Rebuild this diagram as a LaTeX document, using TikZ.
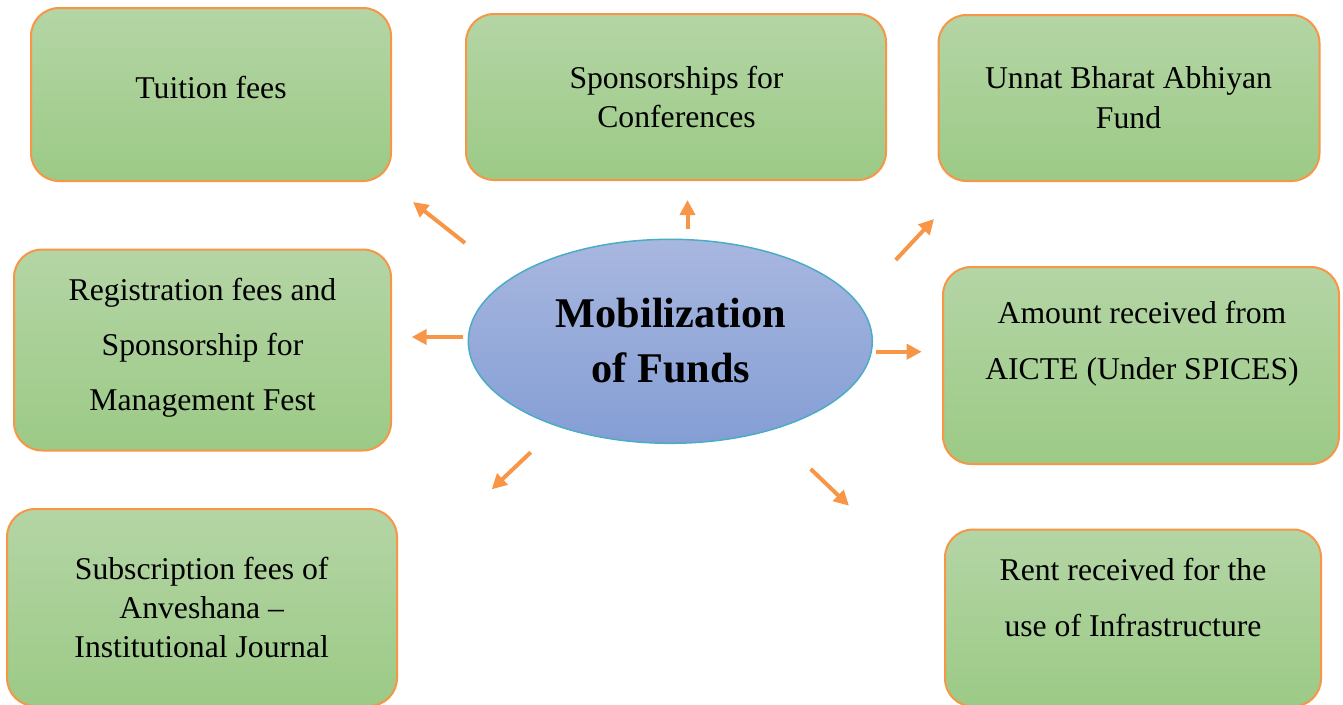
\documentclass[tikz,border=0pt]{standalone}
\usepackage{fontspec}
\setmainfont{Liberation Serif}
\usetikzlibrary{shapes.geometric,arrows.meta}
\definecolor{boxtop}{RGB}{180,213,165}
\definecolor{boxbot}{RGB}{156,202,134}
\definecolor{orangeb}{RGB}{247,150,70}
\definecolor{elltop}{RGB}{168,183,223}
\definecolor{ellbot}{RGB}{132,158,213}
\definecolor{tealb}{RGB}{75,172,198}
\tikzset{
  fundbox/.style={draw=orangeb, line width=2pt, rounded corners=28pt,
    top color=boxtop, bottom color=boxbot, inner sep=0pt, rectangle},
  lbl/.style={anchor=base, inner sep=0pt, font=\fontsize{31.7}{38}\selectfont},
  ttl/.style={anchor=base, inner sep=0pt, font=\fontsize{42.3}{50}\selectfont\bfseries},
  centre/.style={ellipse, draw=tealb, line width=1.5pt, top color=elltop,
    bottom color=ellbot, inner sep=0pt},
  arr/.style={draw=orangeb, line width=4pt, -{Triangle[length=15pt,width=15pt]}}
}
\begin{document}
\begin{tikzpicture}[x=1pt,y=-1pt]
\useasboundingbox (0,0) rectangle (1343,704);

% boxes
\node[fundbox, minimum width=360pt, minimum height=173pt] (tf) at (211,94.5) {};
\node[fundbox, minimum width=420pt, minimum height=166pt] (sc) at (676,97) {};
\node[fundbox, minimum width=381pt, minimum height=166pt] (ub) at (1129,98) {};
\node[fundbox, minimum width=377pt, minimum height=201pt] (rf) at (202.5,350) {};
\node[fundbox, minimum width=396pt, minimum height=197pt] (am) at (1141,365.5) {};
\node[fundbox, minimum width=390pt, minimum height=197pt] (sf) at (202,607.5) {};
\node[fundbox, minimum width=376pt, minimum height=177pt] (rr) at (1133,618) {};

% box texts
\node[lbl] (tf1) at (211,98) {Tuition fees};
\node[lbl] (sc1) at (676.5,88) {Sponsorships for};
\node[lbl] (sc2) at (676.5,127) {Conferences};
\node[lbl] (ub1) at (1128.5,88.5) {Unnat Bharat Abhiyan};
\node[lbl] (ub2) at (1128.5,128.5) {Fund};
\node[lbl] (rf1) at (202.5,300) {Registration fees and};
\node[lbl] (rf2) at (202.5,355) {Sponsorship for};
\node[lbl] (rf3) at (202.5,410) {Management Fest};
\node[lbl] (am1) at (1142,323.5) {Amount received from};
\node[lbl] (am2) at (1142,379) {AICTE (Under SPICES)};
\node[lbl] (sf1) at (201.7,579) {Subscription fees of};
\node[lbl] (sf2) at (201.7,618) {Anveshana –};
\node[lbl] (sf3) at (201.7,657) {Institutional Journal};
\node[lbl] (rr1) at (1133,580) {Rent received for the};
\node[lbl] (rr2) at (1133,636) {use of Infrastructure};

% centre
\node[centre, minimum width=404pt, minimum height=204pt] (mf) at (670.3,341.3) {};
\node[ttl] (mf1) at (671,327) {Mobilization};
\node[ttl] (mf2) at (671,382) {of Funds};

% arrows
\coordinate (a1s) at (465,243);   \coordinate (a1e) at (413,202);
\coordinate (a2s) at (687.5,229); \coordinate (a2e) at (687.5,200);
\coordinate (a3s) at (895.7,260); \coordinate (a3e) at (934,219);
\coordinate (a4s) at (463,337);   \coordinate (a4e) at (411.7,337);
\coordinate (a5s) at (876,351.7); \coordinate (a5e) at (921.7,351.7);
\coordinate (a6s) at (530.7,452.3); \coordinate (a6e) at (491.7,489.3);
\coordinate (a7s) at (810.7,469); \coordinate (a7e) at (849,505.7);
\draw[arr] (a1s) -- (a1e);
\draw[arr] (a2s) -- (a2e);
\draw[arr] (a3s) -- (a3e);
\draw[arr] (a4s) -- (a4e);
\draw[arr] (a5s) -- (a5e);
\draw[arr] (a6s) -- (a6e);
\draw[arr] (a7s) -- (a7e);
\end{tikzpicture}
\end{document}
